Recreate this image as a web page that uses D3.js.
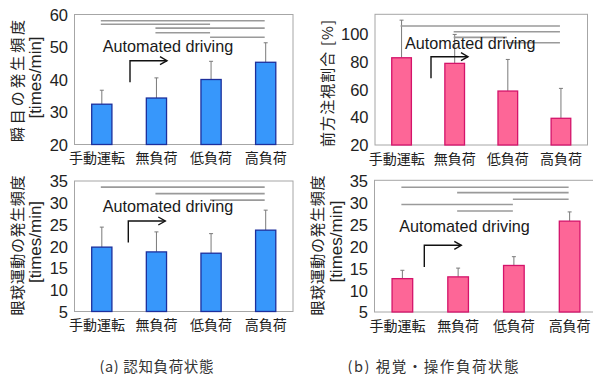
<!DOCTYPE html>
<html>
<head>
<meta charset="utf-8">
<script src="https://cdn.jsdelivr.net/npm/d3@7"></script>
<style>
  html, body { margin: 0; padding: 0; background: #fff; }
  svg { display: block; }
</style>
</head>
<body>
<svg id="chart" width="593" height="374"></svg>
<script>
// Conditions shown on every panel
const categories = ["手動運転", "無負荷", "低負荷", "高負荷"];

// (a) cognitive load: blink frequency [times/min]
const blinkMean = [32.4, 34.3, 40.0, 45.3];
const blinkSD   = [4.3, 6.2, 5.6, 6.0];
const blinkTicks = [20, 30, 40, 50, 60];

// (b) visual/manual load: forward gaze ratio [%]
const gazeMean = [82.4, 78.4, 58.6, 39.1];
const gazeSD   = [26.9, 20.7, 22.6, 21.4];
const gazeTicks = [20, 40, 60, 80, 100];

// (a) cognitive load: eye movement frequency [times/min]
const eyeMoveAMean = [19.8, 18.7, 18.4, 23.7];
const eyeMoveASD   = [4.6, 4.6, 4.5, 4.6];

// (b) visual/manual load: eye movement frequency [times/min]
const eyeMoveBMean = [12.6, 13.0, 15.6, 25.7];
const eyeMoveBSD   = [1.9, 2.0, 2.0, 2.1];
const eyeMoveTicks = [5, 10, 15, 20, 25, 30, 35];

// Significant pairs [from, to, bracket level in data units]
const blinkPairs = [[0, 3, 58.1], [0, 2, 57.0], [1, 3, 55.8], [1, 2, 54.4], [2, 3, 53.0]];
const gazePairs  = [[0, 3, 105.1], [1, 3, 101.0], [1, 2, 97.0], [2, 3, 93.2]];
const eyeMoveAPairs = [[0, 3, 33.6], [1, 3, 32.1], [2, 3, 30.6]];
const eyeMoveBPairs = [[0, 3, 33.4], [1, 3, 32.2], [2, 3, 30.7], [0, 2, 29.5], [1, 2, 28.0]];

const annotation = "Automated driving";
const captions = ["(a)  認知負荷状態", "(b)  視覚・操作負荷状態"];

const blue = { fill: "#3797fb", stroke: "#1c2f9c" };
const pink = { fill: "#fd6697", stroke: "#d4136a" };

const CJK = "'Noto Sans CJK JP', 'Noto Sans', sans-serif";
const LATIN = "'Liberation Sans', Arial, sans-serif";

const panels = [
  { box: [74.5, 293, 14.5, 144.5], domain: [20, 60], ticks: blinkTicks,
    mean: blinkMean, sd: blinkSD, pairs: blinkPairs, color: blue,
    title: ["瞬目の発生頻度", "[times/min]"], titleX: [16.7, 35.7], titleY: [81, 77.5], titleLen: 122,
    note: { tx: 28.2, ty: 37.2, ax: 55.5, ay: 46.2 } },
  { box: [375, 587.5, 14.3, 145], domain: [20, 113.5], ticks: gazeTicks,
    mean: gazeMean, sd: gazeSD, pairs: gazePairs, color: pink,
    title: ["前方注視割合 [%]"], titleX: [326], titleY: [83.5], titleLen: 127,
    note: { tx: 30, ty: 35, ax: 56, ay: 42.4 } },
  { box: [74.5, 293, 181, 311.5], domain: [5, 35], ticks: eyeMoveTicks,
    mean: eyeMoveAMean, sd: eyeMoveASD, pairs: eyeMoveAPairs, color: blue,
    title: ["眼球運動の発生頻度", "[times/min]"], titleX: [16.7, 35.7], titleY: [245.5, 242], titleLen: 140,
    note: { tx: 28.2, ty: 31, ax: 53.8, ay: 40 } },
  { box: [374.5, 597.5, 180.3, 312], domain: [5, 35], ticks: eyeMoveTicks,
    mean: eyeMoveBMean, sd: eyeMoveBSD, pairs: eyeMoveBPairs, color: pink,
    title: ["眼球運動の発生頻度", "[times/min]"], titleX: [316.7, 336], titleY: [245.5, 241.5], titleLen: 140,
    note: { tx: 24.8, ty: 51.7, ax: 49.8, ay: 65 } }
];

const svg = d3.select("#chart");
svg.append("rect").attr("width", 593).attr("height", 374).attr("fill", "#fff");

panels.forEach(p => {
  const [x0, x1, y0, y1] = p.box;
  const pad = 0.63;
  const x = d3.scaleBand().domain(categories).range([x0, x1])
    .paddingInner(pad).paddingOuter(pad / 2);
  const y = d3.scaleLinear().domain(p.domain).range([y1, y0]);
  const g = svg.append("g");

  // Plot frame
  g.append("rect")
    .attr("x", x0).attr("y", y0).attr("width", x1 - x0).attr("height", y1 - y0)
    .attr("fill", "none").attr("stroke", "#a6a6a6").attr("stroke-width", 1);

  // Y axis labels (no tick marks, no domain line)
  const yAxis = d3.axisLeft(y).tickValues(p.ticks).tickSize(0).tickPadding(6.5);
  const ya = g.append("g").attr("transform", `translate(${x0},0)`).call(yAxis);
  ya.select(".domain").remove();
  ya.selectAll("text").attr("font-family", LATIN).attr("font-size", 16.5)
    .attr("fill", "#222").attr("dy", "0.36em");

  // X axis labels
  const xAxis = d3.axisBottom(x).tickSize(0).tickPadding(9);
  const xa = g.append("g").attr("transform", `translate(0,${y1})`).call(xAxis);
  xa.select(".domain").remove();
  xa.selectAll("text").attr("font-family", CJK).attr("font-size", 14)
    .attr("fill", "#222")
    .attr("dx", (d, i) => i === 0 ? "-0.35em" : 0);

  const rows = categories.map((c, i) => ({ c, m: p.mean[i], s: p.sd[i] }));

  // Error bars (upper whisker only)
  const eg = g.append("g").attr("stroke", "#7a7a7a").attr("stroke-width", 1);
  eg.selectAll("line.v").data(rows).join("line")
    .attr("x1", d => x(d.c) + x.bandwidth() / 2).attr("x2", d => x(d.c) + x.bandwidth() / 2)
    .attr("y1", d => y(d.m)).attr("y2", d => y(d.m + d.s));
  eg.selectAll("line.cap").data(rows).join("line")
    .attr("x1", d => x(d.c) + x.bandwidth() / 2 - 2).attr("x2", d => x(d.c) + x.bandwidth() / 2 + 2)
    .attr("y1", d => y(d.m + d.s)).attr("y2", d => y(d.m + d.s));

  // Bars
  g.append("g").selectAll("rect").data(rows).join("rect")
    .attr("x", d => x(d.c)).attr("width", x.bandwidth())
    .attr("y", d => y(d.m)).attr("height", d => y(p.domain[0]) - y(d.m))
    .attr("fill", p.color.fill).attr("stroke", p.color.stroke).attr("stroke-width", 1.3);

  // Significance brackets
  g.append("g").selectAll("line").data(p.pairs).join("line")
    .attr("x1", d => x(categories[d[0]]) + x.bandwidth() / 2 - 1)
    .attr("x2", d => x(categories[d[1]]) + x.bandwidth() / 2 - 1)
    .attr("y1", d => y(d[2])).attr("y2", d => y(d[2]))
    .attr("stroke", "#9a9a9a").attr("stroke-width", 1.6);

  // "Automated driving" annotation with bent arrow
  g.append("text").attr("x", x0 + p.note.tx).attr("y", y0 + p.note.ty)
    .attr("font-family", LATIN).attr("font-size", 16.2).attr("fill", "#1a1a1a")
    .text(annotation);
  const ax = x0 + p.note.ax, ayTop = y0 + p.note.ay, len = 37, drop = 21.6;
  g.append("path")
    .attr("d", `M${ax},${ayTop + drop}V${ayTop}H${ax + len}`)
    .attr("fill", "none").attr("stroke", "#111").attr("stroke-width", 1.4);
  g.append("path")
    .attr("d", `M${ax + len - 7},${ayTop - 4}L${ax + len},${ayTop}L${ax + len - 7},${ayTop + 4}`)
    .attr("fill", "none").attr("stroke", "#111").attr("stroke-width", 1.4);

  // Rotated axis titles
  p.title.forEach((t, i) => {
    const isLatin = /^\[/.test(t);
    const tt = g.append("text")
      .attr("transform", `translate(${p.titleX[i]},${p.titleY[i]}) rotate(-90)`)
      .attr("text-anchor", "middle").attr("dominant-baseline", "central")
      .attr("font-family", isLatin ? LATIN : CJK)
      .attr("font-size", isLatin ? 17 : 15)
      .attr("fill", "#222")
      .text(t);
    if (!isLatin) tt.attr("textLength", p.titleLen).attr("lengthAdjust", "spacing");
  });
});

// Panel captions
svg.selectAll("text.caption").data(captions).join("text")
  .attr("class", "caption")
  .attr("x", (d, i) => [156.5, 433][i]).attr("y", 365)
  .attr("text-anchor", "middle").attr("dominant-baseline", "central")
  .attr("font-family", CJK).attr("font-size", 14.5).attr("fill", "#333")
  .attr("textLength", (d, i) => [114, 171][i]).attr("lengthAdjust", "spacing")
  .text(d => d);
</script>
</body>
</html>
